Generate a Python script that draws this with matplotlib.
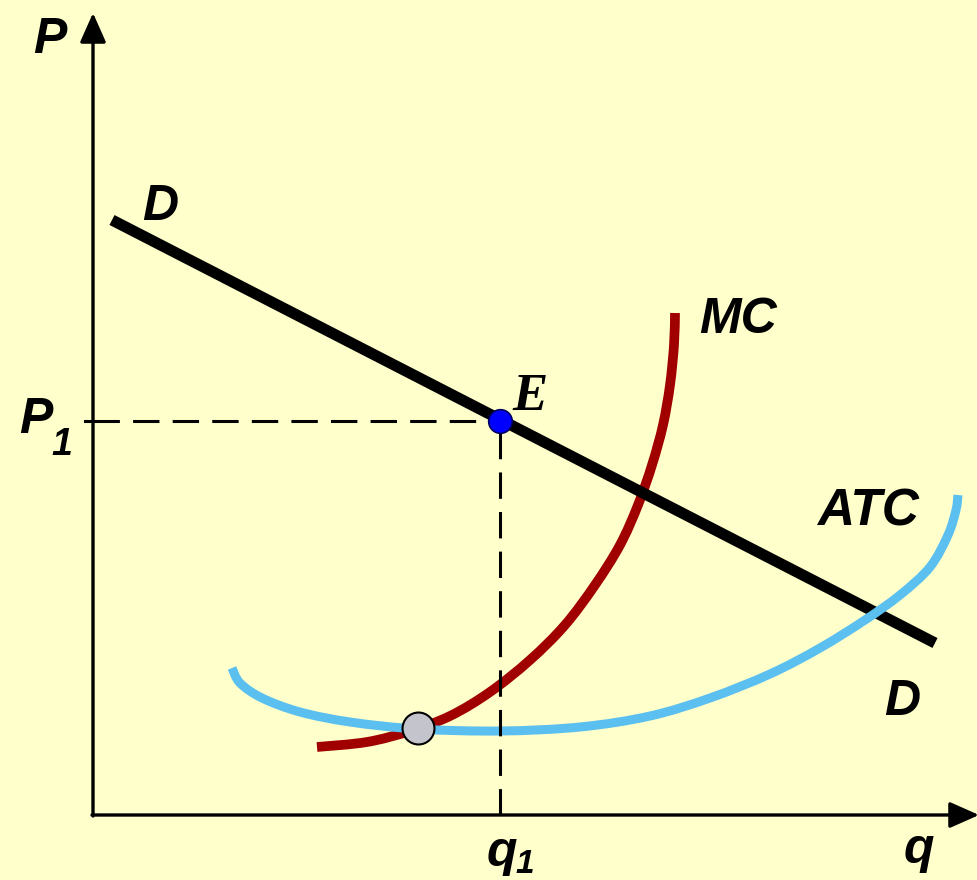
import matplotlib
matplotlib.use("Agg")
import matplotlib.pyplot as plt
from matplotlib.path import Path
from matplotlib.patches import PathPatch

plt.rcParams['lines.scale_dashes'] = False

# ---- data (q, P) ----
d_q = [1.9, 84.2]
d_p = [59.5, 17.2]

mc_q = [22.4, 27.4, 31.7, 35.7, 39.7, 43.7, 47.2, 50.2, 52.7, 54.5, 55.9, 57.0,
        57.7, 58.1, 58.2]
mc_p = [6.8, 7.3, 8.4, 9.9, 12.3, 15.5, 19.0, 23.0, 27.0, 31.0, 35.0, 39.0,
        43.0, 47.0, 50.2]

atc_q = [13.9, 14.7, 16.9, 20.7, 25.7, 32.4, 40.7, 48.7, 55.7, 61.7, 67.7, 72.7,
         77.2, 80.7, 83.7, 85.5, 86.3, 86.5]
atc_p = [14.7, 13.2, 11.7, 10.3, 9.3, 8.6, 8.4, 8.8, 9.9, 11.7, 14.1, 16.7,
         19.5, 22.0, 24.8, 28.0, 30.5, 32.0]

q1 = 40.7
p1 = 39.4
atc_min_q = 32.5
atc_min_p = 8.7

BG = '#FFFFCC'


def smooth_path(xs, ys):
    """Bezier path passing through the given points (Catmull-Rom style)."""
    pts = list(zip(xs, ys))
    n = len(pts)
    verts = [pts[0]]
    codes = [Path.MOVETO]
    for i in range(n - 1):
        p0 = pts[i - 1] if i > 0 else pts[i]
        pa = pts[i]
        pb = pts[i + 1]
        p3 = pts[i + 2] if i + 2 < n else pts[i + 1]
        c1 = (pa[0] + (pb[0] - p0[0]) / 6.0, pa[1] + (pb[1] - p0[1]) / 6.0)
        c2 = (pb[0] - (p3[0] - pa[0]) / 6.0, pb[1] - (p3[1] - pa[1]) / 6.0)
        verts += [c1, c2, pb]
        codes += [Path.CURVE4] * 3
    return Path(verts, codes)


fig = plt.figure(figsize=(9.77, 8.8), dpi=100, facecolor=BG)
ax = fig.add_axes([0, 0, 1, 1])
ax.set_facecolor(BG)
ax.set_xlim(-9.3, 88.4)
ax.set_ylim(-6.5, 81.5)
ax.axis('off')

# axes with arrows
arrow = dict(arrowstyle='-|>,head_length=0.9,head_width=0.4', lw=2.4,
             color='black', shrinkA=0, shrinkB=0, mutation_scale=20)
ax.annotate('', xy=(0, 80.2), xytext=(0, -0.1), arrowprops=arrow,
            annotation_clip=False)
ax.annotate('', xy=(88.6, 0), xytext=(-0.1, 0), arrowprops=arrow,
            annotation_clip=False)
# tick at P1
ax.plot([-0.8, 0], [p1, p1], color='black', lw=2.2)

# curves
ax.add_patch(PathPatch(smooth_path(mc_q, mc_p), fill=False, ec='#A00000',
                       lw=7, capstyle='butt', joinstyle='round', zorder=3))
ax.plot(d_q, d_p, color='black', lw=8, solid_capstyle='butt', zorder=4)
ax.add_patch(PathPatch(smooth_path(atc_q, atc_p), fill=False, ec='#5BC0F0',
                       lw=6.5, capstyle='butt', joinstyle='round', zorder=5))

# dashed guides
ax.plot([0, q1], [p1, p1], color='black', lw=2.2, dashes=(19, 9.5), zorder=6)
ax.plot([q1, q1], [0, p1], color='black', lw=2.2, dashes=(19, 9.5), zorder=6)

# points
ax.plot([q1], [p1], 'o', ms=17, mfc='#0000FF', mec='#000060', mew=1.2, zorder=8)
ax.plot([atc_min_q], [atc_min_p], 'o', ms=23, mfc='#C4C4CC', mec='black',
        mew=1.5, zorder=8)

# labels
sans = dict(family=['Liberation Sans', 'DejaVu Sans'], weight='bold',
            style='italic', color='black')
ax.text(-4.3, 76.2, 'P', fontsize=36, ha='center', va='baseline', **sans)
ax.text(6.7, 59.5, 'D', fontsize=36, ha='center', va='baseline', **sans)
ax.text(-5.7, 38.2, 'P', fontsize=36, ha='center', va='baseline', **sans)
ax.text(-3.1, 36.0, '1', fontsize=27, ha='center', va='baseline', **sans)
ax.text(43.7, 40.5, 'E', fontsize=38, ha='center', va='baseline',
        family=['Liberation Serif', 'DejaVu Serif'], weight='bold',
        style='italic', color='black')
ax.text(64.5, 48.2, 'MC', fontsize=36, ha='center', va='baseline', **sans)
ax.text(77.5, 29.0, 'ATC', fontsize=37, ha='center', va='baseline', **sans)
ax.text(80.9, 10.0, 'D', fontsize=36, ha='center', va='baseline', **sans)
ax.text(82.6, -4.8, 'q', fontsize=36, ha='center', va='baseline', **sans)
ax.text(40.9, -5.1, 'q', fontsize=36, ha='center', va='baseline', **sans)
ax.text(43.2, -5.8, '1', fontsize=24, ha='center', va='baseline', **sans)

fig.savefig('out.png', dpi=100, facecolor=BG)
